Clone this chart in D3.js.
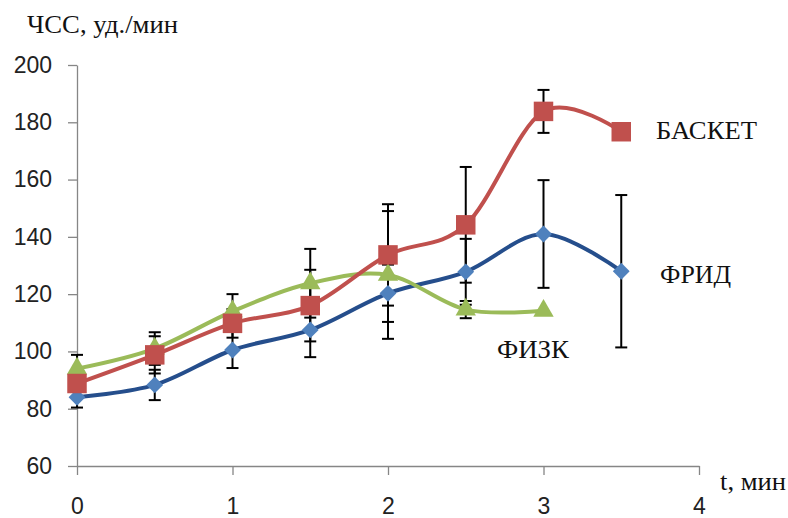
<!DOCTYPE html>
<html>
<head>
<meta charset="utf-8">
<script src="https://cdn.jsdelivr.net/npm/d3@7"></script>
<style>
  html, body { margin: 0; padding: 0; background: #fff; }
  svg { display: block; }
  .serif { font-family: "Liberation Serif", "DejaVu Serif", serif; font-size: 25px; fill: #111; }
</style>
</head>
<body>
<svg id="chart" width="788" height="518"></svg>
<script>
// ---- data ----
const xTicks = [0, 1, 2, 3, 4];
const yTicks = [60, 80, 100, 120, 140, 160, 180, 200];

const timeFrid = [0, 0.5, 1, 1.5, 2, 2.5, 3, 3.5];
const valFrid  = [84, 88.3, 100.5, 107.5, 120.3, 127.8, 141, 128];
const errFrid  = [3.6, 5.3, 6.3, 9.5, 10, 11.5, 18.8, 26.6];

const timeBasket = [0, 0.5, 1, 1.5, 2, 2.5, 3, 3.5];
const valBasket  = [88.8, 98.8, 109.8, 116, 133.7, 144.2, 183.8, 176.7];
const errBasket  = [5, 6.5, 5, 12.5, 17.7, 20.2, 7.5, 0];

const timeFizk = [0, 0.5, 1, 1.5, 2, 2.5, 3];
const valFizk  = [94, 101, 114, 123.8, 126.7, 114.6, 114.2];
const errFizk  = [4.8, 5.7, 6, 12, 22.3, 3, 0];

const seriesNames = ["ФРИД", "БАСКЕТ", "ФИЗК"];
const yTitle = "ЧСС, уд./мин";
const xTitle = "t, мин";

// ---- layout ----
const svg = d3.select("#chart");
const x = d3.scaleLinear().domain([0, 4]).range([77, 699]);
const y = d3.scaleLinear().domain([60, 200]).range([466, 65]);

const axisColor = "#868686";
const tickFont = "'Liberation Sans', Arial, sans-serif";

// axes
const gy = svg.append("g").attr("transform", `translate(${x(0)},0)`)
  .call(d3.axisLeft(y).tickValues(yTicks).tickSize(9).tickSizeOuter(0).tickPadding(16).tickFormat(d3.format("d")));
const gx = svg.append("g").attr("transform", `translate(0,${y(60)})`)
  .call(d3.axisBottom(x).tickValues(xTicks).tickSize(9).tickSizeOuter(0).tickPadding(23).tickFormat(d3.format("d")));
[gy, gx].forEach(g => {
  g.selectAll("path.domain").attr("stroke", axisColor).attr("stroke-width", 1.3);
  g.selectAll(".tick line").attr("stroke", axisColor).attr("stroke-width", 1.3);
  g.selectAll(".tick text").attr("fill", "#222").style("font-family", tickFont).style("font-size", "23px");
});

// titles
function label(txt, px, py, len) {
  svg.append("text").attr("class", "serif").attr("x", px).attr("y", py)
    .attr("textLength", len).attr("lengthAdjust", "spacingAndGlyphs").text(txt);
}
label(yTitle, 27, 33, 151);
label(xTitle, 720, 490, 66);

const series = [
  { name: seriesNames[0], t: timeFrid, v: valFrid, e: errFrid, line: "#254E8C", fill: "#4F81BD", shape: "diamond", lx: 660, ly: 283, len: 71 },
  { name: seriesNames[2], t: timeFizk, v: valFizk, e: errFizk, line: "#9BBB59", fill: "#9BBB59", shape: "triangle", lx: 497, ly: 357.5, len: 72 },
  { name: seriesNames[1], t: timeBasket, v: valBasket, e: errBasket, line: "#C0504D", fill: "#C0504D", shape: "square", lx: 656, ly: 139, len: 101 }
];

const lineGen = d3.line().x(d => x(d[0])).y(d => y(d[1])).curve(d3.curveCardinal.tension(0));

// error bars (below lines)
series.forEach(s => {
  const g = svg.append("g").attr("stroke", "#000").attr("stroke-width", 2);
  s.t.forEach((t, i) => {
    const e = s.e[i];
    if (!e) return;
    const cx = x(t), y1 = y(s.v[i] + e), y2 = y(s.v[i] - e);
    g.append("line").attr("x1", cx).attr("x2", cx).attr("y1", y1).attr("y2", y2);
    g.append("line").attr("x1", cx - 6).attr("x2", cx + 6).attr("y1", y1).attr("y2", y1);
    g.append("line").attr("x1", cx - 6).attr("x2", cx + 6).attr("y1", y2).attr("y2", y2);
  });
});

// lines and markers
series.forEach(s => {
  const pts = s.t.map((t, i) => [t, s.v[i]]);
  svg.append("path").datum(pts).attr("d", lineGen)
    .attr("fill", "none").attr("stroke", s.line).attr("stroke-width", 4).attr("stroke-linejoin", "round");
  let sym;
  if (s.shape === "diamond") sym = d3.symbol().type(d3.symbolDiamond2).size(180);
  else if (s.shape === "triangle") sym = d3.symbol().type(d3.symbolTriangle).size(180);
  else sym = d3.symbol().type(d3.symbolSquare).size(380);
  svg.append("g").selectAll("path").data(pts).join("path")
    .attr("d", sym)
    .attr("transform", d => `translate(${x(d[0])},${y(d[1])})`)
    .attr("fill", s.fill);
  label(s.name, s.lx, s.ly, s.len);
});
</script>
</body>
</html>
